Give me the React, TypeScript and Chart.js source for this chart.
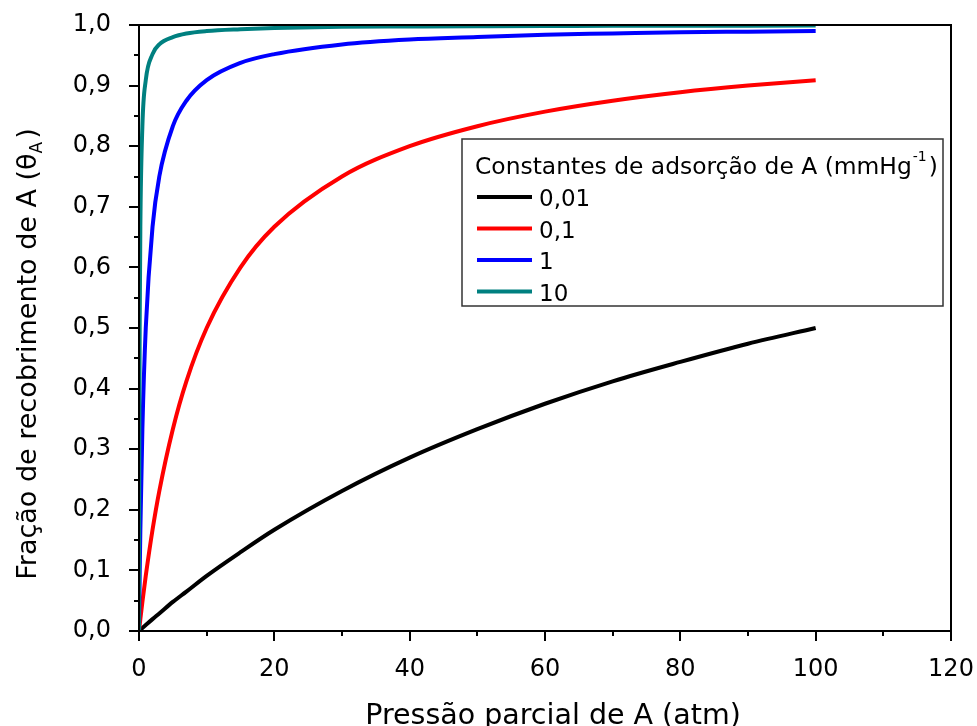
import React, { useEffect, useRef } from "react";
import { Chart, registerables } from "chart.js";

Chart.register(...registerables);

// Partial pressure of A (atm)
const pressure = [0, 0.02, 0.05, 0.1, 0.2, 0.5, 1, 2, 3, 5, 7, 10, 15, 20, 30, 40, 50, 60, 70, 80, 90, 100];

// Surface coverage θA for each adsorption constant
const coverageK001 = [0, 0.0002, 0.0005, 0.001, 0.002, 0.005, 0.0099, 0.0196, 0.029, 0.048, 0.065, 0.091, 0.13, 0.167, 0.231, 0.286, 0.333, 0.375, 0.412, 0.444, 0.474, 0.5];
const coverageK01 = [0, 0.002, 0.005, 0.0099, 0.0196, 0.048, 0.091, 0.167, 0.231, 0.333, 0.412, 0.5, 0.6, 0.667, 0.75, 0.8, 0.833, 0.857, 0.875, 0.889, 0.9, 0.909];
const coverageK1 = [0, 0.0196, 0.048, 0.091, 0.167, 0.333, 0.5, 0.667, 0.75, 0.833, 0.875, 0.909, 0.9375, 0.952, 0.968, 0.976, 0.98, 0.984, 0.986, 0.988, 0.989, 0.99];
const coverageK10 = [0, 0.167, 0.333, 0.5, 0.667, 0.833, 0.909, 0.952, 0.968, 0.98, 0.986, 0.99, 0.993, 0.995, 0.997, 0.9975, 0.998, 0.9984, 0.9986, 0.9988, 0.9989, 0.999];

const seriesLabels = ["0,01", "0,1", "1", "10"];
const seriesColors = ["#000000", "#ff0000", "#0000ff", "#008080"];

const xTicks = [0, 20, 40, 60, 80, 100, 120];
const yTicks = [0, 0.1, 0.2, 0.3, 0.4, 0.5, 0.6, 0.7, 0.8, 0.9, 1.0];

const FONT = "'DejaVu Sans', Verdana, sans-serif";
const TICK_SIZE = 24;
const LEGEND_SIZE = 23;

const toPoints = (ys: number[]) => pressure.map((x, i) => ({ x, y: ys[i] }));

// Frame, ticks (major + minor), axis titles and the legend box
const decorations = {
  id: "decorations",
  afterDraw(chart: any) {
    const { ctx, chartArea: a, scales } = chart;
    const xs = scales.x;
    const ys = scales.y;
    ctx.save();
    ctx.strokeStyle = "#000";
    ctx.lineWidth = 2;
    ctx.strokeRect(a.left, a.top, a.right - a.left, a.bottom - a.top);

    ctx.beginPath();
    for (let v = 0; v <= 120; v += 10) {
      const px = Math.round(xs.getPixelForValue(v));
      const len = v % 20 === 0 ? 10 : 5;
      ctx.moveTo(px, a.bottom);
      ctx.lineTo(px, a.bottom + len);
    }
    for (let i = 0; i <= 20; i++) {
      const py = Math.round(ys.getPixelForValue(i * 0.05));
      const len = i % 2 === 0 ? 10 : 5;
      ctx.moveTo(a.left, py);
      ctx.lineTo(a.left - len, py);
    }
    ctx.stroke();

    // X title
    ctx.fillStyle = "#000";
    ctx.font = `28.5px ${FONT}`;
    ctx.textAlign = "center";
    ctx.textBaseline = "alphabetic";
    ctx.fillText("Pressão parcial de A (atm)", 553, 724);

    // Y title with subscript
    ctx.save();
    ctx.translate(36, 354);
    ctx.rotate(-Math.PI / 2);
    const main = "Fração de recobrimento de A (θ";
    const big = `27px ${FONT}`;
    const small = `17px ${FONT}`;
    ctx.font = big;
    const wMain = ctx.measureText(main).width;
    ctx.font = small;
    const wSub = ctx.measureText("A").width;
    ctx.font = big;
    const wEnd = ctx.measureText(")").width;
    const total = wMain + wSub + wEnd + 3;
    let tx = -total / 2;
    ctx.textAlign = "left";
    ctx.fillText(main, tx, 0);
    tx += wMain;
    ctx.font = small;
    ctx.fillText("A", tx, 6);
    tx += wSub + 3;
    ctx.font = big;
    ctx.fillText(")", tx, 0);
    ctx.restore();

    // Legend
    const lx = 462;
    const ly = 139;
    const lw = 481;
    const lh = 167;
    ctx.fillStyle = "#fff";
    ctx.fillRect(lx, ly, lw, lh);
    ctx.strokeStyle = "#333";
    ctx.lineWidth = 1.5;
    ctx.strokeRect(lx, ly, lw, lh);

    ctx.fillStyle = "#000";
    ctx.textAlign = "left";
    ctx.textBaseline = "alphabetic";
    const titleMain = "Constantes de adsorção de A (mmHg";
    ctx.font = `23.4px ${FONT}`;
    ctx.fillText(titleMain, lx + 13, ly + 35);
    let sx = lx + 13 + ctx.measureText(titleMain).width;
    ctx.font = `14px ${FONT}`;
    ctx.fillText("-1", sx + 1, ly + 22);
    sx += ctx.measureText("-1").width + 3;
    ctx.font = `23.4px ${FONT}`;
    ctx.fillText(")", sx, ly + 35);

    chart.data.datasets.forEach((ds: any, i: number) => {
      const cy = ly + 58 + i * 31.5;
      ctx.strokeStyle = ds.borderColor;
      ctx.lineWidth = 4;
      ctx.beginPath();
      ctx.moveTo(lx + 15, cy);
      ctx.lineTo(lx + 70, cy);
      ctx.stroke();
      ctx.fillStyle = "#000";
      ctx.font = `${LEGEND_SIZE}px ${FONT}`;
      ctx.fillText(ds.label, lx + 77, cy + 9);
    });
    ctx.restore();
  },
};

export default function App() {
  const canvasRef = useRef<HTMLCanvasElement | null>(null);

  useEffect(() => {
    if (!canvasRef.current) return;
    const series = [coverageK001, coverageK01, coverageK1, coverageK10];
    const chart = new Chart(canvasRef.current, {
      type: "line",
      data: {
        datasets: series.map((ys, i) => ({
          label: seriesLabels[i],
          data: toPoints(ys),
          borderColor: seriesColors[i],
          backgroundColor: seriesColors[i],
          borderWidth: 4,
          pointRadius: 0,
          fill: false,
          cubicInterpolationMode: "monotone" as const,
          order: series.length - i,
        })),
      },
      options: {
        responsive: false,
        animation: false,
        layout: { padding: { top: 25, right: 26, left: 0, bottom: 0 } },
        plugins: {
          legend: { display: false },
          tooltip: { enabled: false },
        },
        scales: {
          x: {
            type: "linear",
            min: 0,
            max: 120,
            afterBuildTicks: (s: any) => {
              s.ticks = xTicks.map((v) => ({ value: v }));
            },
            afterFit: (s: any) => {
              s.height = 95;
              s.paddingLeft = 0;
              s.paddingRight = 0;
            },
            grid: { display: false },
            border: { display: false },
            ticks: {
              color: "#000",
              font: { family: FONT, size: TICK_SIZE },
              padding: 16,
              maxRotation: 0,
              callback: (v: any) => String(v),
            },
          },
          y: {
            type: "linear",
            min: 0,
            max: 1,
            afterBuildTicks: (s: any) => {
              s.ticks = yTicks.map((v) => ({ value: v }));
            },
            afterFit: (s: any) => {
              s.width = 139;
              s.paddingTop = 0;
              s.paddingBottom = 0;
            },
            grid: { display: false },
            border: { display: false },
            ticks: {
              color: "#000",
              font: { family: FONT, size: TICK_SIZE },
              padding: 20,
              callback: (v: any) => Number(v).toFixed(1).replace(".", ","),
            },
          },
        },
      },
      plugins: [decorations],
    });
    return () => chart.destroy();
  }, []);

  return (
    <div style={{ position: "fixed", left: 0, top: 0, width: 977, height: 726, background: "#fff" }}>
      <canvas ref={canvasRef} width={977} height={726} style={{ width: 977, height: 726 }} />
    </div>
  );
}
